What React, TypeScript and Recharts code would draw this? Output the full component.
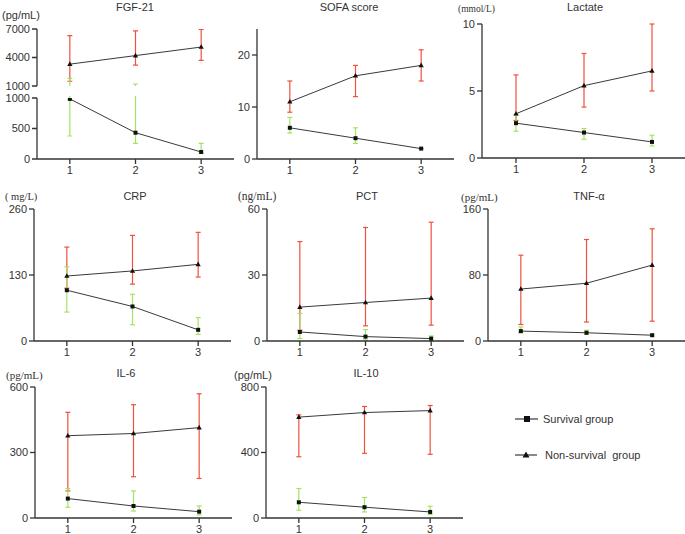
import { ErrorBar, Line, LineChart, XAxis, YAxis } from "recharts";

const days = [1, 2, 3];

// FGF-21 (pg/mL), broken axis
const fgfSurv = [985, 431, 115];
const fgfSurvLo = [377, 257, 95];
const fgfSurvHi = [1800, 1210, 257];
const fgfNon = [3300, 4200, 5100];
const fgfNonLo = [1500, 3200, 3700];
const fgfNonHi = [6300, 6800, 6950];

// SOFA score
const sofaSurv = [6, 4, 2];
const sofaSurvLo = [5, 3, 2];
const sofaSurvHi = [8, 6, 2];
const sofaNon = [11, 16, 18];
const sofaNonLo = [9, 12, 15];
const sofaNonHi = [15, 18, 21];

// Lactate (mmol/L)
const lacSurv = [2.6, 1.9, 1.2];
const lacSurvLo = [2.0, 1.4, 0.9];
const lacSurvHi = [3.2, 2.2, 1.7];
const lacNon = [3.3, 5.4, 6.5];
const lacNonLo = [2.8, 3.8, 5.0];
const lacNonHi = [6.2, 7.8, 10];

// CRP (mg/L)
const crpSurv = [100, 68, 22];
const crpSurvLo = [57, 32, 13];
const crpSurvHi = [146, 92, 46];
const crpNon = [128, 138, 151];
const crpNonLo = [104, 112, 126];
const crpNonHi = [185, 208, 214];

// PCT (ng/mL)
const pctSurv = [4.1, 2.0, 1.1];
const pctSurvLo = [1.1, 0.5, 0.2];
const pctSurvHi = [12.5, 5.2, 2.3];
const pctNon = [15.4, 17.5, 19.5];
const pctNonLo = [4.9, 6.9, 7.2];
const pctNonHi = [45.2, 51.6, 54];

// TNF-α (pg/mL)
const tnfSurv = [12, 10, 7];
const tnfSurvLo = [10, 8, 6];
const tnfSurvHi = [17, 13, 8.5];
const tnfNon = [63, 70, 92];
const tnfNonLo = [20, 23, 24];
const tnfNonHi = [104, 123, 136];

// IL-6 (pg/mL)
const il6Surv = [89, 55, 29];
const il6SurvLo = [49, 32, 14];
const il6SurvHi = [135, 124, 55];
const il6Non = [377, 387, 414];
const il6NonLo = [124, 189, 181];
const il6NonHi = [484, 519, 569];

// IL-10 (pg/mL)
const il10Surv = [96, 66, 37];
const il10SurvLo = [47, 37, 21];
const il10SurvHi = [180, 125, 72];
const il10Non = [616, 644, 656];
const il10NonLo = [374, 395, 389];
const il10NonHi = [630, 681, 687];

const AXIS = "#333";
const LINE = "#3a3a3a";
const RED = "#f0503c";
const GREEN = "#a6e262";
const SANS = 'Arial, "Liberation Sans", sans-serif';
const SERIF = '"Times New Roman", "Liberation Serif", serif';

const YW = 45;
const MT = 8;
const MR = 4;

const squareDot = (props: any) => {
  const { cx, cy, index } = props;
  if (cx == null || cy == null) return <g key={`s${index}`} />;
  return <rect key={`s${index}`} x={cx - 2} y={cy - 2} width={4} height={4} fill="#111" />;
};

const triDot = (props: any) => {
  const { cx, cy, index } = props;
  if (cx == null || cy == null) return <g key={`t${index}`} />;
  return <path key={`t${index}`} d={`M${cx},${cy - 2.8}L${cx + 2.6},${cy + 1.8}L${cx - 2.6},${cy + 1.8}Z`} fill="#111" />;
};

type PanelProps = {
  left: number;
  top: number;
  width: number;
  height: number;
  domain: [number, number];
  ticks: number[];
  surv: number[];
  survLo: number[];
  survHi: number[];
  non: number[];
  nonLo: number[];
  nonHi: number[];
  showX?: boolean;
  hideSurv?: boolean;
  hideNon?: boolean;
  // part of a broken axis: cut marks outside the plot band
  cut?: "below" | "above";
};

function Panel(p: PanelProps) {
  const showX = p.showX !== false;
  const data = days.map((d, i) => ({
    day: d,
    s: p.surv[i],
    sErr: [p.surv[i] - p.survLo[i], p.survHi[i] - p.surv[i]],
    n: p.non[i],
    nErr: [p.non[i] - p.nonLo[i], p.nonHi[i] - p.non[i]],
  }));
  const xh = showX ? 22 : 0;
  const mb = showX ? 0 : 9;
  const W = YW + p.width + MR;
  const H = MT + p.height + xh + mb;
  const b = YW + 1;
  let clipPath: string | undefined;
  if (p.cut === "below") {
    const pb = MT + p.height;
    clipPath = `polygon(0px 0px, ${W}px 0px, ${W}px ${pb}px, ${b}px ${pb}px, ${b}px ${H}px, 0px ${H}px)`;
  } else if (p.cut === "above") {
    const pt = MT - 2;
    clipPath = `polygon(0px 0px, ${b}px 0px, ${b}px ${pt}px, ${W}px ${pt}px, ${W}px ${H}px, 0px ${H}px)`;
  }
  return (
    <div style={{ position: "absolute", left: p.left - YW, top: p.top - MT, clipPath }}>
      <LineChart width={W} height={H} data={data} margin={{ top: MT, right: MR, bottom: mb, left: 0 }}>
        <XAxis
          type="number"
          dataKey="day"
          domain={[0.5, 3.5]}
          ticks={days}
          hide={!showX}
          height={xh}
          allowDataOverflow
          stroke={AXIS}
          strokeWidth={1.3}
          tickSize={5}
          tick={{ fontSize: 11, fill: "#333" }}
        />
        <YAxis
          width={YW}
          domain={p.domain}
          ticks={p.ticks}
          interval={0}
          allowDataOverflow={!!p.cut}
          stroke={AXIS}
          strokeWidth={1.3}
          tickSize={5}
          tick={{ fontSize: 11, fill: "#333" }}
        />
        <Line
          dataKey="n"
          stroke={p.hideNon ? "none" : LINE}
          strokeWidth={1}
          dot={p.hideNon ? false : triDot}
          isAnimationActive={false}
        >
          <ErrorBar dataKey="nErr" direction="y" width={2.5} stroke={RED} strokeWidth={1.2} />
        </Line>
        <Line
          dataKey="s"
          stroke={p.hideSurv ? "none" : LINE}
          strokeWidth={1}
          dot={p.hideSurv ? false : squareDot}
          isAnimationActive={false}
        >
          <ErrorBar dataKey="sErr" direction="y" width={2.5} stroke={GREEN} strokeWidth={1.2} />
        </Line>
      </LineChart>
    </div>
  );
}

const titles = [
  { text: "FGF-21", x: 135, y: 7 },
  { text: "SOFA score", x: 349, y: 7 },
  { text: "Lactate", x: 585, y: 7 },
  { text: "CRP", x: 135, y: 196 },
  { text: "PCT", x: 367, y: 196 },
  { text: "TNF-α", x: 589, y: 196 },
  { text: "IL-6", x: 126, y: 373 },
  { text: "IL-10", x: 366, y: 373 },
];

const units = [
  { text: "(pg/mL)", x: 2, y: 15, serif: false, size: 11 },
  { text: "(mmol/L)", x: 458, y: 10, serif: true, size: 9.5 },
  { text: "( mg/L)", x: 5, y: 197, serif: true, size: 10.5 },
  { text: "(ng/mL)", x: 238, y: 197, serif: true, size: 11.5 },
  { text: "(pg/mL)", x: 461, y: 197, serif: true, size: 11 },
  { text: "(pg/mL)", x: 6, y: 375, serif: true, size: 11 },
  { text: "(pg/mL)", x: 234, y: 375, serif: false, size: 11 },
];

export default function App() {
  return (
    <div
      style={{
        position: "absolute",
        left: 0,
        top: 0,
        width: 685,
        height: 534,
        background: "#fff",
        fontFamily: SANS,
        color: "#333",
        overflow: "hidden",
      }}
    >
      <Panel left={37} top={29} width={197} height={57} domain={[1000, 7000]} ticks={[1000, 4000, 7000]}
        surv={fgfSurv} survLo={fgfSurvLo} survHi={fgfSurvHi} non={fgfNon} nonLo={fgfNonLo} nonHi={fgfNonHi}
        showX={false} hideSurv cut="below" />
      <Panel left={37} top={98} width={197} height={61} domain={[0, 1000]} ticks={[0, 500, 1000]}
        surv={fgfSurv} survLo={fgfSurvLo} survHi={fgfSurvHi} non={fgfNon} nonLo={fgfNonLo} nonHi={fgfNonHi}
        hideNon cut="above" />
      <Panel left={257} top={29} width={197} height={130} domain={[0, 25]} ticks={[0, 10, 20]}
        surv={sofaSurv} survLo={sofaSurvLo} survHi={sofaSurvHi} non={sofaNon} nonLo={sofaNonLo} nonHi={sofaNonHi} />
      <Panel left={482} top={24} width={204} height={134} domain={[0, 10]} ticks={[0, 5, 10]}
        surv={lacSurv} survLo={lacSurvLo} survHi={lacSurvHi} non={lacNon} nonLo={lacNonLo} nonHi={lacNonHi} />
      <Panel left={34} top={209} width={197} height={132} domain={[0, 260]} ticks={[0, 130, 260]}
        surv={crpSurv} survLo={crpSurvLo} survHi={crpSurvHi} non={crpNon} nonLo={crpNonLo} nonHi={crpNonHi} />
      <Panel left={267} top={209} width={197} height={132} domain={[0, 60]} ticks={[0, 30, 60]}
        surv={pctSurv} survLo={pctSurvLo} survHi={pctSurvHi} non={pctNon} nonLo={pctNonLo} nonHi={pctNonHi} />
      <Panel left={488} top={209} width={197} height={132} domain={[0, 160]} ticks={[0, 80, 160]}
        surv={tnfSurv} survLo={tnfSurvLo} survHi={tnfSurvHi} non={tnfNon} nonLo={tnfNonLo} nonHi={tnfNonHi} />
      <Panel left={35} top={387} width={197} height={131} domain={[0, 600]} ticks={[0, 300, 600]}
        surv={il6Surv} survLo={il6SurvLo} survHi={il6SurvHi} non={il6Non} nonLo={il6NonLo} nonHi={il6NonHi} />
      <Panel left={266} top={387} width={197} height={131} domain={[0, 800]} ticks={[0, 400, 800]}
        surv={il10Surv} survLo={il10SurvLo} survHi={il10SurvHi} non={il10Non} nonLo={il10NonLo} nonHi={il10NonHi} />

      {titles.map((t) => (
        <div key={t.text} style={{ position: "absolute", left: t.x, top: t.y, transform: "translate(-50%, -50%)", fontSize: 11, lineHeight: 1, whiteSpace: "nowrap" }}>
          {t.text}
        </div>
      ))}
      {units.map((u, i) => (
        <div key={i} style={{ position: "absolute", left: u.x, top: u.y, transform: "translateY(-50%)", fontSize: u.size, fontFamily: u.serif ? SERIF : SANS, lineHeight: 1, whiteSpace: "pre" }}>
          {u.text}
        </div>
      ))}

      <svg style={{ position: "absolute", left: 0, top: 0 }} width={685} height={534}>
        <line x1={515} y1={419} x2={538} y2={419} stroke={LINE} strokeWidth={1.2} />
        <rect x={524} y={416} width={6} height={6} fill="#111" />
        <line x1={515} y1={455} x2={537} y2={455} stroke={LINE} strokeWidth={1.2} />
        <path d="M526,451.5L529.5,457.5L522.5,457.5Z" fill="#111" />
        <text x={543} y={419} dy="0.35em" fontSize={11} fill="#333">Survival group</text>
        <text x={545} y={455} dy="0.35em" fontSize={11} fill="#333" style={{ whiteSpace: "pre" }}>Non-survival  group</text>
      </svg>
    </div>
  );
}
